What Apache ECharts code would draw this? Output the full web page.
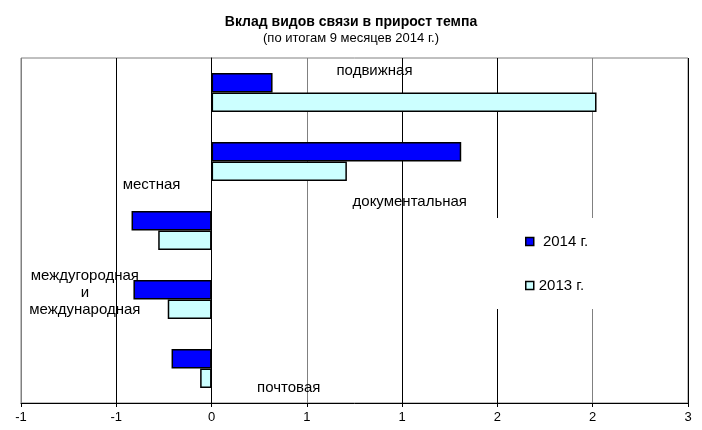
<!DOCTYPE html>
<html>
<head>
<meta charset="utf-8">
<script src="https://cdn.jsdelivr.net/npm/echarts@6/dist/echarts.min.js"></script>
<style>html,body{margin:0;padding:0;background:#fff;}#c{width:702px;height:430px;}</style>
</head>
<body>
<div id="c"></div>
<script>
var categories = ['подвижная', 'документальная', 'местная', 'междугородная\nи\nмеждународная', 'почтовая'];
var seriesNames = [' 2014 г.', '2013 г.'];
var values2014 = [0.32, 1.31, -0.42, -0.41, -0.21];
var values2013 = [2.02, 0.71, -0.28, -0.23, -0.06];
var tickLabels = ['-1', '-1', '0', '1', '1', '2', '2', '3'];

// label placement: [x in value units, pixel offset from category centre]
var labelPlacement = [[0.855, -22], [1.04, 40], [-0.315, -46], [-0.665, -7], [0.405, 19]];

var FONT = '"Liberation Sans", Arial, sans-serif';
var chart = echarts.init(document.getElementById('c'), null, {renderer: 'canvas'});
var option = {
  animation: false,
  backgroundColor: '#fff',
  title: {
    text: 'Вклад видов связи в прирост темпа',
    subtext: '(по итогам 9 месяцев 2014 г.)',
    left: 'center', top: 10, itemGap: 3,
    textStyle: {fontFamily: FONT, fontSize: 14, fontWeight: 'bold', color: '#000'},
    subtextStyle: {fontFamily: FONT, fontSize: 13, color: '#000'}
  },
  grid: {left: 21, right: 14, top: 58, bottom: 27, show: true, borderColor: '#808080', borderWidth: 1, containLabel: false},
  legend: {
    orient: 'vertical', left: 490, top: 218,
    backgroundColor: '#fff', padding: [16, 30, 16, 35], itemGap: 29,
    itemWidth: 8, itemHeight: 8, icon: 'rect',
    itemStyle: {borderColor: '#000', borderWidth: 1.5},
    textStyle: {fontFamily: FONT, fontSize: 15, color: '#000'},
    data: seriesNames
  },
  xAxis: {
    type: 'value', min: -1, max: 2.5, interval: 0.5,
    axisLine: {show: true, lineStyle: {color: '#000', width: 1}},
    axisTick: {show: true, length: 4, lineStyle: {color: '#000'}},
    axisLabel: {fontFamily: FONT, fontSize: 13, color: '#000', margin: 8,
      formatter: function (v, i) { return tickLabels[i]; }},
    splitLine: {show: true, lineStyle: {color: ['#808080', '#000', '#000'], width: 1}}
  },
  yAxis: {
    type: 'category', inverse: true, data: categories,
    axisLine: {show: true, onZero: true, lineStyle: {color: '#000'}},
    axisTick: {show: false}, axisLabel: {show: false}, splitLine: {show: false}
  },
  series: [
    {name: seriesNames[0], type: 'bar', data: values2014, barWidth: 19.5, barGap: '0%',
     itemStyle: {color: '#0000FF', borderColor: '#000', borderWidth: 1.5}},
    {name: seriesNames[1], type: 'bar', data: values2013, barWidth: 19.5, barGap: '0%',
     itemStyle: {color: '#CCFFFF', borderColor: '#000', borderWidth: 1.5}}
  ]
};
chart.setOption(option);

var texts = categories.map(function (name, i) {
  var p = chart.convertToPixel({xAxisIndex: 0, yAxisIndex: 0}, [labelPlacement[i][0], i]);
  return {
    type: 'text', x: p[0], y: p[1] + labelPlacement[i][1], z: 10,
    style: {text: name, fill: '#000', font: '15px ' + FONT, align: 'center', verticalAlign: 'middle', lineHeight: 17}
  };
});
chart.setOption({graphic: texts});
</script>
</body>
</html>
